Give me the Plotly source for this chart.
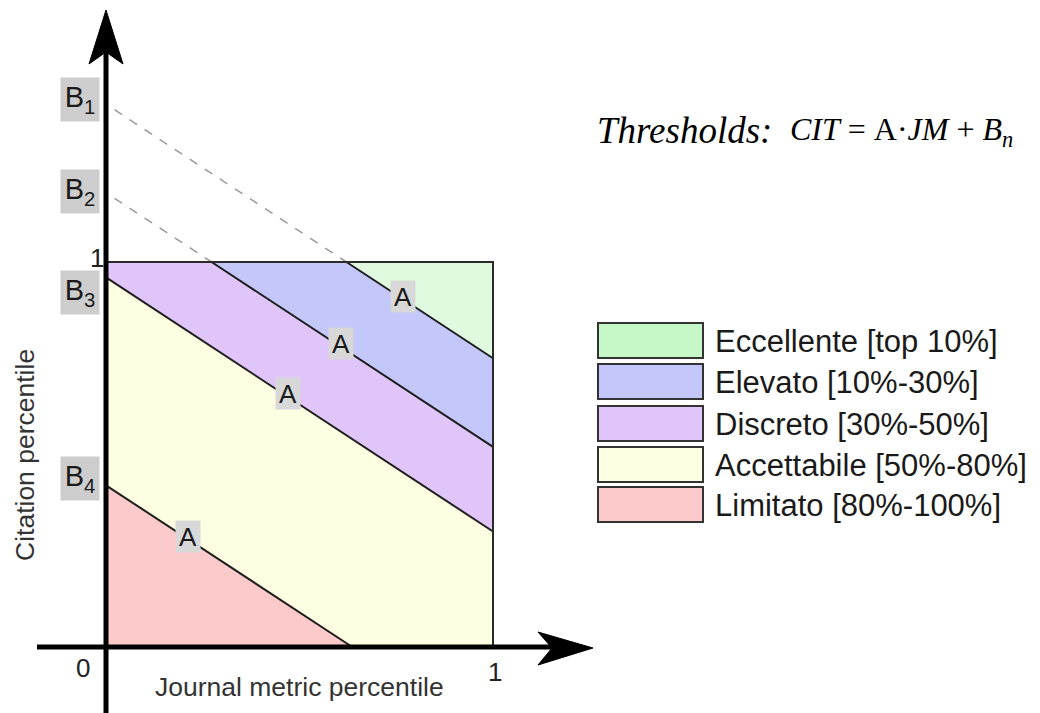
import plotly.graph_objects as go

# ---------------- data ----------------
A = -0.66                              # common slope of the thresholds
B = [1.41, 1.18, 0.96, 0.42]           # intercepts B1..B4
b_labels = ["B<sub>1</sub>", "B<sub>2</sub>", "B<sub>3</sub>", "B<sub>4</sub>"]
categories = ["Eccellente [top 10%]", "Elevato [10%-30%]", "Discreto [30%-50%]",
              "Accettabile [50%-80%]", "Limitato [80%-100%]"]
x_title = "Journal metric percentile"
y_title = "Citation percentile"
x_tick_labels = ["0", "1"]
y_tick_labels = ["1"]
title_text = "<i>Thresholds:</i>"
NB = "\u00a0"
formula_text = ("<i>CIT</i>" + NB + "=" + NB + "A·<i>JM</i>" + NB + "+" + NB
                + "<i>B</i><sub><i>n</i></sub>")

# ---------------- styles ----------------
region_colors = ["#e0fae0", "#c3c7fa", "#e0c5fa", "#fefee3", "#fccaca"]
legend_colors = ["#c6f7c6", "#c3c7fa", "#e0c5fa", "#fefee3", "#fccaca"]
a_pos = [0.767, 0.607, 0.47, 0.212]    # where the "A" tag sits along each line

W, H = 1040, 713       # browser window
OFF = 8                # page body margin
PW, PH = W - OFF, H - OFF
X0, Y0 = 106, 647      # screen pixel of the origin
SX, SY = 387, 385      # pixels per unit


def dx(px):
    return (px - X0) / SX


def dy(py):
    return (Y0 - py) / SY


def px_(px):
    return (px - OFF) / PW


def py_(py):
    return 1 - (py - OFF) / PH


def clip(poly, b, keep_above):
    def f(p):
        v = p[1] - (A * p[0] + b)
        return v if keep_above else -v
    out = []
    n = len(poly)
    for i in range(n):
        P, Q = poly[i], poly[(i + 1) % n]
        fp, fq = f(P), f(Q)
        if fp >= 0:
            out.append(P)
        if (fp >= 0) != (fq >= 0):
            t = fp / (fp - fq)
            out.append((P[0] + t * (Q[0] - P[0]), P[1] + t * (Q[1] - P[1])))
    return out


square = [(0, 0), (1, 0), (1, 1), (0, 1)]
fig = go.Figure()

# regions
bounds = [None] + B + [None]
for i, cat in enumerate(categories):
    poly = square
    upper = bounds[i]      # region lies below this line
    lower = bounds[i + 1]  # region lies above this line
    if upper is not None:
        poly = clip(poly, upper, keep_above=False)
    if lower is not None:
        poly = clip(poly, lower, keep_above=True)
    xs = [p[0] for p in poly] + [poly[0][0]]
    ys = [p[1] for p in poly] + [poly[0][1]]
    fig.add_trace(go.Scatter(x=xs, y=ys, fill="toself", fillcolor=region_colors[i],
                             mode="lines", line=dict(width=0), name=cat,
                             hoverinfo="name", showlegend=False))

# threshold lines
for i, b in enumerate(B):
    x_start = max(0.0, (1 - b) / A)
    x_end = min(1.0, -b / A)
    fig.add_trace(go.Scatter(x=[x_start, x_end], y=[A * x_start + b, A * x_end + b],
                             mode="lines", line=dict(color="#1e1e1e", width=2),
                             showlegend=False, hoverinfo="skip"))
    if b > 1:
        xd = 0.022
        fig.add_trace(go.Scatter(x=[xd, x_start], y=[A * xd + b, 1],
                                 mode="lines",
                                 line=dict(color="#9a9a9a", width=1.5, dash="dash"),
                                 showlegend=False, hoverinfo="skip"))

shapes = []
# square border
shapes.append(dict(type="rect", xref="x", yref="y", x0=0, y0=0, x1=1, y1=1,
                   line=dict(color="#2a2a2a", width=2), fillcolor="rgba(0,0,0,0)"))
# axes
shapes.append(dict(type="line", xref="x", yref="y", x0=dx(37), y0=0, x1=dx(560), y1=0,
                   line=dict(color="black", width=5)))
shapes.append(dict(type="line", xref="x", yref="y", x0=0, y0=dy(715), x1=0, y1=dy(50),
                   line=dict(color="black", width=5)))


def path(pts):
    return "M " + " L ".join(f"{x:.5f},{y:.5f}" for x, y in pts) + " Z"


# x arrowhead
xa = [(593, 648), (538, 632), (552, 648), (538, 665)]
shapes.append(dict(type="path", xref="x", yref="y",
                   path=path([(dx(p), dy(q)) for p, q in xa]),
                   fillcolor="black", line=dict(color="black", width=1)))
# y arrowhead
ya = [(106, 10), (89, 64), (106, 52), (123, 64)]
shapes.append(dict(type="path", xref="x", yref="y",
                   path=path([(dx(p), dy(q)) for p, q in ya]),
                   fillcolor="black", line=dict(color="black", width=1)))

# legend boxes
box_tops = [323, 364, 406, 447, 487]
for i, cat in enumerate(categories):
    shapes.append(dict(type="rect", xref="paper", yref="paper",
                       x0=px_(598), x1=px_(703), y0=py_(box_tops[i] + 35), y1=py_(box_tops[i]),
                       fillcolor=legend_colors[i], line=dict(color="#333333", width=2)))

ann = []
for i, cat in enumerate(categories):
    ann.append(dict(x=px_(713), y=py_(box_tops[i] + 18), xref="paper", yref="paper",
                    text=cat, showarrow=False, xanchor="left", yanchor="middle",
                    font=dict(family="Liberation Sans", size=31, color="#1a1a1a")))

# A tags
for i, b in enumerate(B):
    ax = a_pos[i]
    ann.append(dict(x=ax, y=A * ax + b, xref="x", yref="y", yshift=3, text="A",
                    showarrow=False, bgcolor="#d8d8d8", borderpad=0, width=24, height=31,
                    font=dict(family="Liberation Sans", size=26, color="#1a1a1a")))

# B tags
b_shift = [5, 1, -15, 7]
for i, b in enumerate(B):
    ann.append(dict(x=dx(79.5), y=b, xref="x", yref="y", yshift=b_shift[i],
                    text=b_labels[i], showarrow=False, bgcolor="#cdcdcd", borderpad=0,
                    width=38, height=43,
                    font=dict(family="Liberation Sans", size=29, color="#1a1a1a")))

# tick labels
tick_font = dict(family="Liberation Sans", size=26, color="#222")
ann.append(dict(x=dx(83), y=dy(668), xref="x", yref="y", text=x_tick_labels[0],
                showarrow=False, font=tick_font))
ann.append(dict(x=dx(495), y=dy(672), xref="x", yref="y", text=x_tick_labels[1],
                showarrow=False, font=tick_font))
ann.append(dict(x=dx(97), y=dy(258), xref="x", yref="y", text=y_tick_labels[0],
                showarrow=False, font=tick_font))

# axis titles
ann.append(dict(x=dx(299), y=dy(687), xref="x", yref="y", text=x_title, showarrow=False,
                font=dict(family="Liberation Sans", size=26.5, color="#333")))
ann.append(dict(x=dx(25), y=dy(455), xref="x", yref="y", text=y_title, showarrow=False,
                textangle=-90, font=dict(family="Liberation Sans", size=26.5, color="#333")))

# title / formula
ann.append(dict(x=px_(595), y=py_(130), xref="paper", yref="paper", text=title_text,
                showarrow=False, xanchor="left", yanchor="middle",
                font=dict(family="Liberation Serif", size=37, color="black")))
ann.append(dict(x=px_(788), y=py_(131), xref="paper", yref="paper", text=formula_text,
                showarrow=False, xanchor="left", yanchor="middle",
                font=dict(family="Liberation Serif", size=32, color="black")))

fig.update_layout(
    width=PW, height=PH, margin=dict(l=0, r=0, t=0, b=0),
    paper_bgcolor="white", plot_bgcolor="white",
    xaxis=dict(range=[dx(OFF), dx(W)], visible=False, fixedrange=True),
    yaxis=dict(range=[dy(H), dy(OFF)], visible=False, fixedrange=True),
    shapes=shapes, annotations=ann, showlegend=False,
)

fig.write_html("out.html")
